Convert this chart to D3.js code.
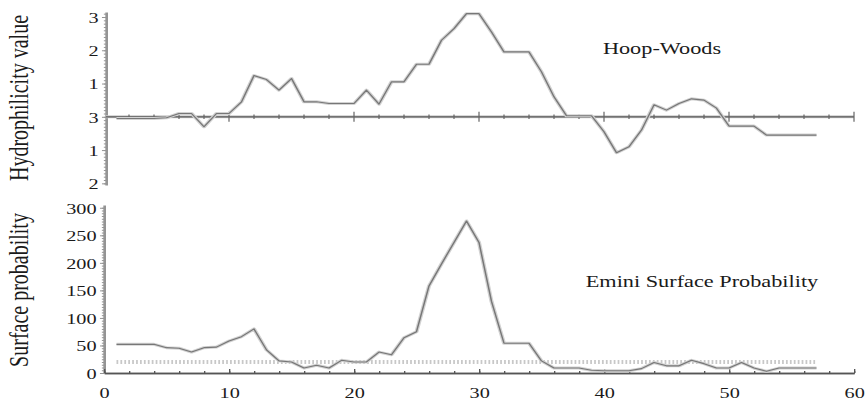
<!DOCTYPE html>
<html>
<head>
<meta charset="utf-8">
<script src="https://cdn.jsdelivr.net/npm/d3@7"></script>
<style>
  body { margin: 0; background: #fff; }
  svg { display: block; }
  text { font-family: "Liberation Serif", "Times New Roman", serif; fill: #1a1a1a; }
</style>
</head>
<body>
<script>
// residue positions 1..57
var positions = d3.range(1, 58);

// Hoop-Woods hydrophilicity, one value per residue
var hydro = [-0.05, -0.05, -0.05, -0.05, -0.03, 0.1, 0.1, -0.3, 0.1, 0.1,
             0.45, 1.24, 1.12, 0.8, 1.15, 0.45, 0.45, 0.4, 0.4, 0.4,
             0.8, 0.38, 1.05, 1.05, 1.58, 1.58, 2.3, 2.65, 3.1, 3.1,
             2.55, 1.95, 1.95, 1.95, 1.35, 0.6, 0.03, 0.03, 0.03, -0.45,
             -1.08, -0.9, -0.4, 0.36, 0.2, 0.4, 0.54, 0.5, 0.26, -0.28,
             -0.28, -0.28, -0.55, -0.55, -0.55, -0.55, -0.55];

// Emini surface probability
var emini = [52, 52, 52, 52, 46, 45, 38, 46, 47, 58,
             66, 80, 42, 22, 20, 9, 14, 9, 23, 20,
             20, 38, 33, 64, 75, 158, 198, 237, 276, 237,
             130, 54, 54, 54, 22, 9, 9, 9, 5, 4,
             4, 4, 8, 19, 13, 13, 23, 17, 9, 9,
             19, 9, 3, 9, 9, 9, 9];
var eminiThreshold = 20;

var xTicks = [0, 10, 20, 30, 40, 50, 60];
var hydroTicks = [3, 2, 1, 0, -1, -2];
var hydroTickLabels = ["3", "2", "1", "3", "1", "2"];
var eminiTicks = [0, 50, 100, 150, 200, 250, 300];

// the original figure is stretched sideways, so draw narrow and stretch
var SX = 1.35;
var W = 866 / SX, H = 403;
function px(v) { return v / SX; }

var svg = d3.select("body").append("svg")
    .attr("width", 866)
    .attr("height", H)
    .attr("viewBox", "0 0 " + W + " " + H)
    .attr("preserveAspectRatio", "none");

var x = d3.scaleLinear().domain([0, 60]).range([px(104), px(854)]);
var yTop = d3.scaleLinear().domain([-2.05, 3.15]).range([185, 12]);
var yBot = d3.scaleLinear().domain([0, 305]).range([373, 205]);

function styleAxis(g, col, w) {
  g.select(".domain").attr("stroke", col).attr("stroke-width", w);
  g.selectAll(".tick line").attr("stroke", col).attr("stroke-width", 1);
  g.selectAll("text").attr("font-size", 15).attr("fill", "#1a1a1a")
    .attr("font-family", "Liberation Serif");
}

// ---- top panel ----
var topAxisX = px(106);

svg.append("g")
    .attr("transform", "translate(" + topAxisX + ",0)")
    .call(d3.axisLeft(yTop).tickValues(d3.range(-20, 32, 1).map(function(d) { return d / 10; }))
      .tickSize(1.6).tickSizeOuter(0).tickFormat(""))
    .call(styleAxis, "#949494", 2);

svg.append("g")
    .attr("transform", "translate(" + topAxisX + ",0)")
    .call(d3.axisLeft(yTop).tickValues(hydroTicks).tickSize(3).tickPadding(2.5).tickSizeOuter(0)
      .tickFormat(function(d, i) { return hydroTickLabels[i]; }))
    .call(styleAxis, "#949494", 2)
    .call(function(g) { g.select(".domain").remove(); g.selectAll("text").attr("dy", "0.36em"); });

// zero line with small ticks
var zeroG = svg.append("g").attr("transform", "translate(0," + yTop(0) + ")");
zeroG.append("line")
    .attr("x1", topAxisX).attr("x2", x(60))
    .attr("stroke", "#cdcdcd").attr("stroke-width", 3);
zeroG.append("line")
    .attr("x1", topAxisX).attr("x2", x(60))
    .attr("stroke", "#555").attr("stroke-width", 1.2);
zeroG.selectAll(".minor")
    .data(d3.range(2, 61, 2))
    .enter().append("line")
    .attr("x1", function(d) { return x(d); }).attr("x2", function(d) { return x(d); })
    .attr("y1", function(d) { return d % 10 === 0 ? -5 : -2.2; })
    .attr("y2", function(d) { return d % 10 === 0 ? 5 : 2.2; })
    .attr("stroke", "#666").attr("stroke-width", 0.9);

var lineTop = d3.line()
    .x(function(d, i) { return x(positions[i]); })
    .y(function(d) { return yTop(d); });

svg.append("path").datum(hydro)
    .attr("d", lineTop).attr("fill", "none")
    .attr("stroke", "#d2d2d2").attr("stroke-width", 3).attr("stroke-linejoin", "round");
svg.append("path").datum(hydro)
    .attr("d", lineTop).attr("fill", "none")
    .attr("stroke", "#777").attr("stroke-width", 1.1).attr("stroke-linejoin", "round");

svg.append("text")
    .attr("x", px(662)).attr("y", 54)
    .attr("text-anchor", "middle")
    .attr("font-size", 16.5)
    .text("Hoop-Woods");

svg.append("text")
    .attr("transform", "translate(" + px(28) + ",98) rotate(-90)")
    .attr("text-anchor", "middle")
    .attr("font-size", 20)
    .text("Hydrophilicity value");

// ---- bottom panel ----
svg.append("g")
    .attr("transform", "translate(" + x(0) + ",0)")
    .call(d3.axisLeft(yBot).tickValues(d3.range(0, 305, 5)).tickSize(1.6).tickSizeOuter(0).tickFormat(""))
    .call(styleAxis, "#949494", 2);

svg.append("g")
    .attr("transform", "translate(" + x(0) + ",0)")
    .call(d3.axisLeft(yBot).tickValues(eminiTicks).tickSize(3).tickPadding(2.5).tickSizeOuter(0))
    .call(styleAxis, "#949494", 2)
    .call(function(g) { g.select(".domain").remove(); g.selectAll("text").attr("dy", "0.36em"); });

// threshold, dotted
svg.append("line")
    .attr("x1", x(1)).attr("x2", x(57))
    .attr("y1", yBot(eminiThreshold)).attr("y2", yBot(eminiThreshold))
    .attr("stroke", "#c8c8c8").attr("stroke-width", 4)
    .attr("stroke-dasharray", "1.3,1.6");

// x axis
svg.append("g")
    .attr("transform", "translate(0," + yBot(0) + ")")
    .call(d3.axisTop(x).tickValues(d3.range(0, 61, 2)).tickSize(2).tickSizeOuter(0).tickFormat(""))
    .call(styleAxis, "#555", 1.5);

svg.append("g")
    .attr("transform", "translate(0," + yBot(0) + ")")
    .call(d3.axisTop(x).tickValues(xTicks).tickSize(4).tickSizeOuter(0).tickFormat(""))
    .call(styleAxis, "#555", 1.5);

svg.append("g")
    .attr("transform", "translate(0," + yBot(0) + ")")
    .call(d3.axisBottom(x).tickValues(xTicks).tickSize(0).tickPadding(14))
    .call(styleAxis, "#555", 1.5)
    .call(function(g) { g.select(".domain").remove(); });

var lineBot = d3.line()
    .x(function(d, i) { return x(positions[i]); })
    .y(function(d) { return yBot(d); });

svg.append("path").datum(emini)
    .attr("d", lineBot).attr("fill", "none")
    .attr("stroke", "#d2d2d2").attr("stroke-width", 3).attr("stroke-linejoin", "round");
svg.append("path").datum(emini)
    .attr("d", lineBot).attr("fill", "none")
    .attr("stroke", "#777").attr("stroke-width", 1.1).attr("stroke-linejoin", "round");

svg.append("text")
    .attr("x", px(702)).attr("y", 287)
    .attr("text-anchor", "middle")
    .attr("font-size", 16.5)
    .text("Emini Surface Probability");

svg.append("text")
    .attr("transform", "translate(" + px(28) + ",290) rotate(-90)")
    .attr("text-anchor", "middle")
    .attr("font-size", 20)
    .text("Surface probability");
</script>
</body>
</html>
